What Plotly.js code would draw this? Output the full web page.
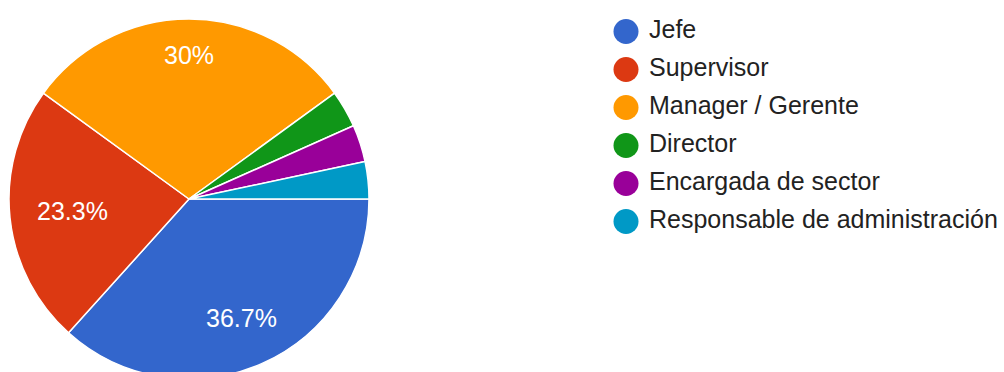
<!DOCTYPE html>
<html>
<head>
<meta charset="utf-8">
<script src="https://cdn.plot.ly/plotly-3.0.1.min.js"></script>
<style>
  html, body { margin: 0; padding: 0; overflow: hidden; background: #fff; }
  #chart { width: 1004px; height: 400px; }
</style>
</head>
<body>
<div id="chart"></div>
<script>
// Roles of the respondents (number of answers per role)
const roles = ['Jefe', 'Supervisor', 'Manager / Gerente', 'Director', 'Encargada de sector', 'Responsable de administración'];
const counts = [11, 7, 9, 1, 1, 1];
const colors = ['#3366cc', '#dc3912', '#ff9900', '#109618', '#990099', '#0099c6'];

const W = 1004, H = 400;
const FONT = 'Arial, "Liberation Sans", sans-serif';
const FONT_SIZE = 25;
const pieDomain = { x: [9 / W, 369 / W], y: [21 / H, 381 / H] };

const pie = {
  type: 'pie',
  labels: roles,
  values: counts,
  sort: false,
  direction: 'clockwise',
  rotation: 90,
  marker: { colors: colors, line: { color: '#ffffff', width: 1.5 } },
  textinfo: 'none',
  hoverinfo: 'none',
  showlegend: false,
  domain: pieDomain
};

// Percentage labels: each one sits near the rim of its slice, pushed in
// just far enough that the whole label box stays inside the slice.
const total = counts.reduce((a, b) => a + b, 0);
const cxPx = (pieDomain.x[0] + pieDomain.x[1]) / 2 * W;
const cyPx = (1 - (pieDomain.y[0] + pieDomain.y[1]) / 2) * H;
const radius = Math.min(pieDomain.x[1] - pieDomain.x[0], (pieDomain.y[1] - pieDomain.y[0]) * H / W) * W / 2;
const ctx = document.createElement('canvas').getContext('2d');
ctx.font = FONT_SIZE + 'px ' + FONT;
const capH = FONT_SIZE * 0.76;

const annotations = [];
let cum = 0;
counts.forEach((c, i) => {
  const frac = c / total;
  const mid = (cum + frac / 2) * 2 * Math.PI;
  cum += frac;
  if (frac < 0.05) return;
  const txt = Number((frac * 100).toFixed(1)) + '%';
  const w = ctx.measureText(txt).width;
  const cos = Math.cos(mid), sin = Math.sin(mid);
  const r = radius * 0.85 - (w / 2 * Math.abs(cos) + capH / 2 * Math.abs(sin));
  annotations.push({
    xref: 'paper', yref: 'paper',
    x: (cxPx + r * cos) / W,
    y: 1 - (cyPx + r * sin) / H,
    xanchor: 'center', yanchor: 'middle',
    text: txt, showarrow: false,
    font: { family: FONT, size: FONT_SIZE, color: '#ffffff' }
  });
});

// Legend: a column of round swatches with the role names beside them
const swatches = {
  type: 'scatter',
  mode: 'markers',
  x: roles.map(() => 0),
  y: roles.map((_, i) => i),
  marker: { color: colors, size: 25, symbol: 'circle' },
  cliponaxis: false,
  hoverinfo: 'none',
  showlegend: false
};
const names = {
  type: 'scatter',
  mode: 'text',
  x: roles.map(() => 23),
  y: roles.map((_, i) => i),
  text: roles,
  textposition: 'middle right',
  textfont: { family: FONT, size: FONT_SIZE, color: '#222222' },
  cliponaxis: false,
  hoverinfo: 'none',
  showlegend: false
};

const hiddenAxis = { showgrid: false, zeroline: false, showticklabels: false, showline: false, ticks: '', fixedrange: true };

const layout = {
  width: W,
  height: H,
  margin: { l: 0, r: 0, t: 0, b: 0 },
  paper_bgcolor: '#ffffff',
  plot_bgcolor: 'rgba(0,0,0,0)',
  showlegend: false,
  annotations: annotations,
  xaxis: Object.assign({}, hiddenAxis, { domain: [600 / W, 1], range: [-26, 378] }),
  yaxis: Object.assign({}, hiddenAxis, { domain: [0, 1], range: [H / 38 - 31.5 / 38, -31.5 / 38] })
};

Plotly.newPlot('chart', [pie, swatches, names], layout, { staticPlot: true, displayModeBar: false });
</script>
</body>
</html>
